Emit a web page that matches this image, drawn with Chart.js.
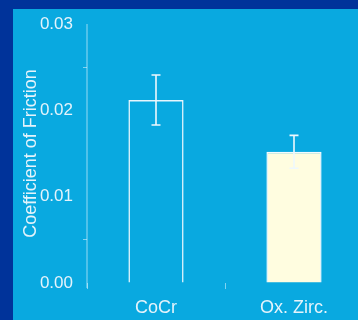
<!DOCTYPE html>
<html>
<head>
<meta charset="utf-8">
<script src="https://cdn.jsdelivr.net/npm/chart.js@4/dist/chart.umd.min.js"></script>
<style>
  html, body { margin: 0; padding: 0; overflow: hidden; }
  body { width: 358px; height: 320px; background: #00339a; position: relative; }
  #panel { position: absolute; left: 13px; top: 9px; width: 345px; height: 311px; background: #09a9e0; }
  #wrap { position: absolute; left: 0; top: 0; width: 365px; height: 320px; }
</style>
</head>
<body>
<div id="panel"></div>
<div id="wrap"><canvas id="c" width="365" height="320"></canvas></div>
<script>
// Friction coefficient by bearing material
const categories = ['CoCr', 'Ox. Zirc.'];
const friction = [0.0212, 0.0152];
const errUpper = [0.0029, 0.0019];
const errLower = [0.0029, 0.0019];
const yTickLabels = [0.00, 0.01, 0.02, 0.03];
const minorTickMarks = [0.005, 0.025];

const ink = '#e4f3fb';
const faint = 'rgba(225,245,255,0.55)';

// error bars + axis line drawn through the chart scales
const errorBars = {
  id: 'errorBars',
  afterDatasetsDraw(chart) {
    const { ctx, scales: { x, y } } = chart;
    const meta = chart.getDatasetMeta(0);
    ctx.save();
    // y axis line, running slightly below zero
    ctx.strokeStyle = faint;
    ctx.lineWidth = 1.2;
    ctx.beginPath();
    ctx.moveTo(x.left, y.getPixelForValue(0.03));
    ctx.lineTo(x.left, y.getPixelForValue(0) + 5);
    ctx.stroke();
    ctx.strokeStyle = '#eef8fd';
    ctx.lineWidth = 1.6;
    meta.data.forEach((bar, i) => {
      const cx = bar.x;
      const top = y.getPixelForValue(friction[i] + errUpper[i]);
      const bot = y.getPixelForValue(friction[i] - errLower[i]);
      const half = 4.5;
      ctx.beginPath();
      ctx.moveTo(cx, top); ctx.lineTo(cx, bot);
      ctx.moveTo(cx - half, top); ctx.lineTo(cx + half, top);
      ctx.moveTo(cx - half, bot); ctx.lineTo(cx + half, bot);
      ctx.stroke();
    });
    ctx.restore();
  }
};

new Chart(document.getElementById('c'), {
  type: 'bar',
  data: {
    labels: categories,
    datasets: [{
      data: friction,
      backgroundColor: ['rgba(0,0,0,0)', '#fffde0'],
      borderColor: ['#e8f6fd', '#f4fbff'],
      borderWidth: 1.5,
      borderSkipped: 'bottom',
      barPercentage: 0.4,
      categoryPercentage: 1.0
    }]
  },
  options: {
    responsive: false,
    animation: false,
    events: [],
    layout: { padding: { left: 0, top: 24, right: 2, bottom: 0 } },
    plugins: { legend: { display: false }, tooltip: { enabled: false } },
    scales: {
      x: {
        grid: {
          offset: true,
          drawOnChartArea: false,
          tickLength: 6,
          tickColor: faint,
          lineWidth: 1
        },
        border: { display: false },
        ticks: {
          color: ink,
          padding: 8,
          font: { family: 'Liberation Sans, Arial, sans-serif', size: 18 }
        },
        afterFit(s) { s.height = 37; }
      },
      y: {
        min: 0,
        max: 0.03,
        grid: {
          drawOnChartArea: false,
          tickLength: 4,
          tickColor: (c) => minorTickMarks.some(v => Math.abs(v - c.tick.value) < 1e-9) ? faint : 'rgba(0,0,0,0)'
        },
        border: { display: false },
        ticks: {
          stepSize: 0.005,
          color: ink,
          padding: 10,
          font: { family: 'Liberation Sans, Arial, sans-serif', size: 17 },
          callback: (v) => yTickLabels.some(t => Math.abs(t - v) < 1e-9) ? v.toFixed(2) : ''
        },
        title: {
          display: true,
          text: 'Coefficient of Friction',
          color: ink,
          padding: { top: 20, bottom: 0 },
          font: { family: 'Liberation Sans, Arial, sans-serif', size: 18 }
        },
        afterFit(s) { s.width = 87; }
      }
    }
  },
  plugins: [errorBars]
});
</script>
</body>
</html>
